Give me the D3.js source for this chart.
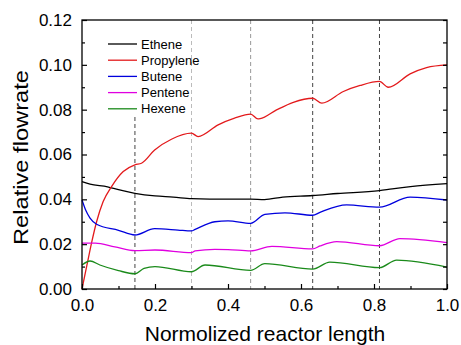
<!DOCTYPE html>
<html><head><meta charset="utf-8">
<script src="https://cdn.jsdelivr.net/npm/d3@7"></script>
<style>body{margin:0;background:#fff}svg{display:block;font-family:"Liberation Sans",Arial,sans-serif}</style>
</head><body><svg id="c" width="461" height="345"></svg>
<script>
const seriesNames = ["Ethene","Propylene","Butene","Pentene","Hexene"];
const seriesColors = ["#000000","#e31a1c","#0000dd","#e000e0","#1a8a1a"];
const ethene = [[0,0.0479],[0.022,0.0468],[0.07,0.0456],[0.1,0.0443],[0.145,0.0427],[0.2,0.0415],[0.25,0.041],[0.3,0.0403],[0.35,0.0401],[0.4,0.0401],[0.462,0.0401],[0.5,0.0399],[0.55,0.041],[0.632,0.0417],[0.7,0.0426],[0.815,0.0439],[0.85,0.0447],[0.9,0.0457],[1.0,0.047]];
const propylene = [[0,0],[0.0146,0.0115],[0.0265,0.0208],[0.04,0.030],[0.058,0.039],[0.081,0.0457],[0.113,0.0524],[0.145,0.0554],[0.163,0.0561],[0.199,0.062],[0.245,0.0668],[0.3,0.0695],[0.318,0.068],[0.373,0.0732],[0.418,0.0762],[0.462,0.078],[0.482,0.0759],[0.488,0.076],[0.533,0.0799],[0.579,0.0833],[0.632,0.0851],[0.657,0.0829],[0.716,0.0881],[0.762,0.0908],[0.815,0.0926],[0.839,0.09],[0.899,0.096],[0.944,0.0988],[1.0,0.1]];
const butene = [[0,0.0397],[0.01,0.0352],[0.022,0.0316],[0.04,0.0289],[0.1,0.0262],[0.145,0.0241],[0.199,0.0269],[0.263,0.0263],[0.3,0.0259],[0.31,0.0266],[0.364,0.03],[0.4,0.0304],[0.462,0.0293],[0.501,0.0333],[0.556,0.034],[0.632,0.0329],[0.652,0.0342],[0.725,0.0375],[0.815,0.0365],[0.899,0.041],[1.0,0.0397]];
const pentene = [[0,0.0205],[0.0365,0.0205],[0.09,0.0188],[0.145,0.0171],[0.2,0.0174],[0.3,0.0162],[0.31,0.017],[0.364,0.0177],[0.4,0.0176],[0.462,0.017],[0.52,0.019],[0.632,0.0179],[0.652,0.0192],[0.698,0.0211],[0.815,0.0193],[0.871,0.0225],[1.0,0.0207]];
const hexene = [[0,0.0107],[0.022,0.0125],[0.049,0.0107],[0.1,0.0082],[0.145,0.0068],[0.17,0.0092],[0.2,0.0100],[0.3,0.0077],[0.337,0.0107],[0.462,0.0083],[0.501,0.0113],[0.632,0.0089],[0.679,0.012],[0.815,0.0095],[0.862,0.0129],[1.0,0.0098]];
const seriesData = [ethene, propylene, butene, pentene, hexene];
const xTicks = [0,0.2,0.4,0.6,0.8,1.0];
const yTicks = [0,0.02,0.04,0.06,0.08,0.10,0.12];
const xMinor = [0.1,0.3,0.5,0.7,0.9];
const yMinor = [0.01,0.03,0.05,0.07,0.09,0.11];
const dividers = [0.145,0.30,0.462,0.632,0.815];
const dividerColors = ["#444","#bbb","#999","#444","#444"];

const svg = d3.select("#c");
const L=82, R=447, T=20, B=289;
const x = d3.scaleLinear().domain([0,1]).range([L,R]);
const y = d3.scaleLinear().domain([0,0.12]).range([B,T]);

dividers.forEach((d,i)=>{
  svg.append("line").attr("x1",x(d)).attr("x2",x(d))
    .attr("y1", i===0 ? 117 : T).attr("y2",B)
    .attr("stroke",dividerColors[i]).attr("stroke-width",1).attr("stroke-dasharray","4,3");
});

const line = d3.line().x(d=>x(d[0])).y(d=>y(d[1])).curve(d3.curveMonotoneX);
seriesData.forEach((s,i)=>{
  svg.append("path").attr("d",line(s)).attr("fill","none")
    .attr("stroke",seriesColors[i]).attr("stroke-width",1.3);
});

svg.append("rect").attr("x",L).attr("y",T).attr("width",R-L).attr("height",B-T)
  .attr("fill","none").attr("stroke","#000").attr("stroke-width",1.3);

const gx = svg.append("g").attr("transform",`translate(0,${B})`)
  .call(d3.axisBottom(x).tickValues(xTicks).tickFormat(d3.format(".1f")).tickSizeInner(-5).tickSizeOuter(0).tickPadding(10));
const gy = svg.append("g").attr("transform",`translate(${L},0)`)
  .call(d3.axisLeft(y).tickValues(yTicks).tickFormat(d3.format(".2f")).tickSizeInner(-5).tickSizeOuter(0).tickPadding(10));
const gxm = svg.append("g").attr("transform",`translate(0,${B})`)
  .call(d3.axisBottom(x).tickValues(xMinor).tickFormat("").tickSizeInner(-3).tickSizeOuter(0));
const gym = svg.append("g").attr("transform",`translate(${L},0)`)
  .call(d3.axisLeft(y).tickValues(yMinor).tickFormat("").tickSizeInner(-3).tickSizeOuter(0));
const gyr = svg.append("g").attr("transform",`translate(${R},0)`)
  .call(d3.axisRight(y).tickValues(yTicks.concat(yMinor)).tickFormat("").tickSizeInner(-4).tickSizeOuter(0));
[gx,gy,gxm,gym,gyr].forEach(g=>{
  g.select(".domain").remove();
  g.selectAll("line").attr("stroke","#000").attr("stroke-width",1.2);
  g.selectAll("text").attr("font-size",17).attr("fill","#000").attr("font-family","Liberation Sans, Arial, sans-serif");
});

svg.append("text").attr("x",265).attr("y",341).attr("text-anchor","middle")
  .attr("font-size",21).text("Normolized reactor length");
svg.append("text").attr("transform",`translate(27.5,157.5) rotate(-90)`).attr("text-anchor","middle")
  .attr("font-size",20).attr("textLength",175).attr("lengthAdjust","spacingAndGlyphs").text("Relative flowrate");

seriesNames.forEach((n,i)=>{
  const yy = 44 + i*16.2;
  svg.append("line").attr("x1",108).attr("x2",137).attr("y1",yy).attr("y2",yy)
    .attr("stroke",seriesColors[i]).attr("stroke-width",1.3);
  svg.append("text").attr("x",141).attr("y",yy+4.5).attr("font-size",13).text(n);
});
</script></body></html>
